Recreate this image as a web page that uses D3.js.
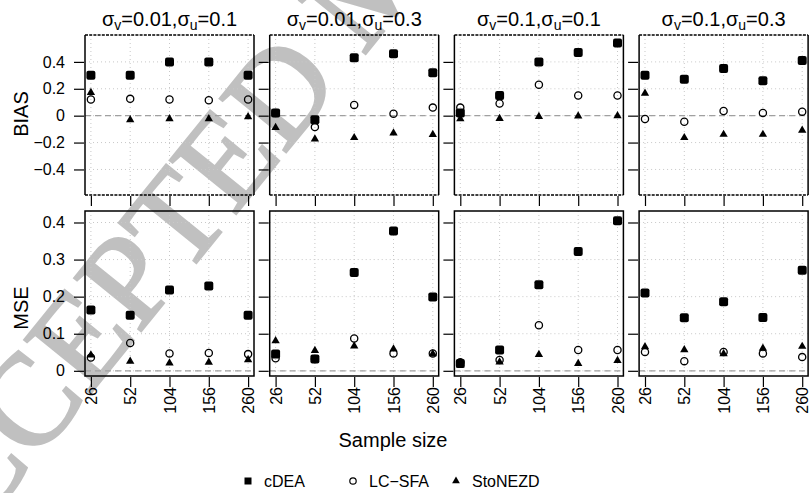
<!DOCTYPE html>
<html>
<head>
<meta charset="utf-8">
<script src="https://cdn.jsdelivr.net/npm/d3@7"></script>
<style>
  body { margin: 0; background: #fff; }
  text { font-family: "Liberation Sans", Arial, sans-serif; fill: #000; }
</style>
</head>
<body>
<div id="chart"></div>
<script>
// sample sizes (categorical x)
var sizes = ["26", "52", "104", "156", "260"];
// panel conditions
var sigmaV = ["0.01", "0.01", "0.1", "0.1"];
var sigmaU = ["0.1", "0.3", "0.1", "0.3"];
var methods = ["cDEA", "LC\u2212SFA", "StoNEZD"];

// BIAS, one row per panel
var biasCDEA = [[0.30, 0.30, 0.40, 0.40, 0.30], [0.02, -0.03, 0.43, 0.46, 0.32],
                [0.02, 0.15, 0.40, 0.47, 0.54], [0.30, 0.27, 0.35, 0.26, 0.41]];
var biasLCSFA = [[0.12, 0.125, 0.12, 0.115, 0.12], [0.02, -0.085, 0.08, 0.015, 0.06],
                 [0.06, 0.09, 0.23, 0.15, 0.15], [-0.025, -0.045, 0.035, 0.02, 0.03]];
var biasStoNEZD = [[0.175, -0.027, -0.02, -0.02, -0.005], [-0.085, -0.17, -0.16, -0.125, -0.137],
                   [-0.02, -0.018, -0.003, 0.0, 0.003], [0.17, -0.16, -0.136, -0.136, -0.105]];

// MSE, one row per panel
var mseCDEA = [[0.164, 0.15, 0.218, 0.229, 0.15], [0.045, 0.032, 0.265, 0.377, 0.199],
               [0.02, 0.056, 0.232, 0.322, 0.405], [0.21, 0.143, 0.186, 0.144, 0.271]];
var mseLCSFA = [[0.036, 0.075, 0.047, 0.048, 0.045], [0.034, 0.032, 0.087, 0.047, 0.047],
                [0.023, 0.029, 0.123, 0.056, 0.056], [0.051, 0.026, 0.051, 0.047, 0.037]];
var mseStoNEZD = [[0.044, 0.027, 0.022, 0.024, 0.031], [0.082, 0.056, 0.068, 0.06, 0.047],
                  [0.017, 0.025, 0.045, 0.021, 0.029], [0.066, 0.058, 0.047, 0.062, 0.067]];

var biasTicks = [-0.4, -0.2, 0, 0.2, 0.4];
var mseTicks = [0, 0.1, 0.2, 0.3, 0.4];

var width = 811, height = 493;
var svg = d3.select("#chart").append("svg")
  .attr("width", width).attr("height", height);

// watermark behind everything
svg.append("text")
  .attr("transform", "translate(-80,604) rotate(-51)")
  .style("font-family", "'Liberation Serif', 'DejaVu Serif', serif")
  .style("font-size", "130px")
  .style("fill", "#c0c0c0")
  .style("stroke", "#c0c0c0")
  .style("stroke-width", 2.5)
  .text("ACCEPTED MANUSCRIPT");

var panelW = 169, gap = 15.7, left0 = 85;
var rows = [
  { name: "BIAS", top: 35, bottom: 195, domain: [-0.59, 0.6], ticks: biasTicks,
    series: [biasCDEA, biasLCSFA, biasStoNEZD], dashedTB: true, labelY: 114 },
  { name: "MSE", top: 211, bottom: 376, domain: [-0.014, 0.431], ticks: mseTicks,
    series: [mseCDEA, mseLCSFA, mseStoNEZD], dashedTB: false, labelY: 308 }
];

var tri = d3.symbol().type(d3.symbolTriangle).size(30);

function drawMark(g, k, x, y) {
  if (k === 0) {
    g.append("rect").attr("x", x - 4.5).attr("y", y - 4.5)
      .attr("width", 9).attr("height", 9).attr("rx", 2)
      .attr("fill", "#000");
  } else if (k === 1) {
    g.append("circle").attr("cx", x).attr("cy", y).attr("r", 3.6)
      .attr("fill", "none").attr("stroke", "#000").attr("stroke-width", 1.3);
  } else {
    g.append("path").attr("d", tri)
      .attr("transform", "translate(" + x + "," + (y + 0.5) + ")")
      .attr("fill", "#000");
  }
}

rows.forEach(function(row, ri) {
  var y = d3.scaleLinear().domain(row.domain).range([row.bottom, row.top]);
  for (var p = 0; p < 4; p++) {
    var x0 = left0 + p * (panelW + gap);
    var x = d3.scalePoint().domain(sizes).range([x0, x0 + panelW]).padding(0.15);
    var g = svg.append("g");

    // grid
    g.selectAll(".gx").data(sizes).enter().append("line")
      .attr("x1", function(d) { return x(d); }).attr("x2", function(d) { return x(d); })
      .attr("y1", row.top).attr("y2", row.bottom)
      .attr("stroke", "#c8c8c8").attr("stroke-dasharray", "1,3");
    g.selectAll(".gy").data(row.ticks).enter().append("line")
      .attr("x1", x0).attr("x2", x0 + panelW)
      .attr("y1", function(d) { return y(d); }).attr("y2", function(d) { return y(d); })
      .attr("stroke", "#c8c8c8").attr("stroke-dasharray", "1,3");
    // zero reference
    g.append("line").attr("x1", x0).attr("x2", x0 + panelW)
      .attr("y1", y(0)).attr("y2", y(0))
      .attr("stroke", "#a0a0a0").attr("stroke-width", 1.2).attr("stroke-dasharray", "6,4");

    // y axis (ticks on left, labels only on first column)
    var ya = d3.axisLeft(y).tickValues(row.ticks).tickSize(10).tickPadding(9)
      .tickFormat(function(d) { return p === 0 ? (d === 0 ? "0" : d3.format(".1f")(d).replace("-", "\u2212")) : ""; });
    var yg = svg.append("g").attr("transform", "translate(" + (x0 - 1) + ",0)").call(ya);
    yg.select(".domain").remove();
    yg.selectAll("line").attr("stroke", "#000").attr("stroke-width", 1.2);
    yg.selectAll("text").style("font-size", "16px").style("font-family", "'Liberation Sans', Arial, sans-serif");

    // x axis ticks below each panel
    var xa = d3.axisBottom(x).tickSize(10)
      .tickFormat(function(d) { return ri === 1 ? d : ""; });
    var xg = svg.append("g").attr("transform", "translate(0," + (row.bottom + 1) + ")").call(xa);
    xg.select(".domain").remove();
    xg.selectAll("line").attr("stroke", "#000").attr("stroke-width", 1.2);
    xg.selectAll("text")
      .style("font-size", "16px").style("font-family", "'Liberation Sans', Arial, sans-serif")
      .attr("text-anchor", "end")
      .attr("transform", "rotate(-90)")
      .attr("x", -10).attr("y", 0).attr("dy", "0.35em");

    // points
    row.series.forEach(function(s, k) {
      s[p].forEach(function(v, i) { drawMark(g, k, x(sizes[i]), y(v)); });
    });

    // border
    if (row.dashedTB) {
      g.append("line").attr("x1", x0).attr("x2", x0).attr("y1", row.top).attr("y2", row.bottom)
        .attr("stroke", "#000").attr("stroke-width", 1.5);
      g.append("line").attr("x1", x0 + panelW).attr("x2", x0 + panelW).attr("y1", row.top).attr("y2", row.bottom)
        .attr("stroke", "#000").attr("stroke-width", 1.5);
      [row.top, row.bottom].forEach(function(yy) {
        g.append("line").attr("x1", x0).attr("x2", x0 + panelW).attr("y1", yy).attr("y2", yy)
          .attr("stroke", "#000").attr("stroke-width", 1.5).attr("stroke-dasharray", "3,1.2");
      });
    } else {
      g.append("rect").attr("x", x0).attr("y", row.top)
        .attr("width", panelW).attr("height", row.bottom - row.top)
        .attr("fill", "none").attr("stroke", "#000").attr("stroke-width", 1.5);
    }

    // strip titles on top row
    if (ri === 0) {
      var t = svg.append("text").attr("x", x0 + panelW / 2).attr("y", 26)
        .attr("text-anchor", "middle").style("font-size", "20px");
      t.append("tspan").text("\u03c3");
      t.append("tspan").attr("dy", 4).style("font-size", "14px").text("v");
      t.append("tspan").attr("dy", -4).text("=" + sigmaV[p] + ",\u03c3");
      t.append("tspan").attr("dy", 4).style("font-size", "14px").text("u");
      t.append("tspan").attr("dy", -4).text("=" + sigmaU[p]);
    }
  }

  svg.append("text")
    .attr("transform", "translate(28," + row.labelY + ") rotate(-90)")
    .attr("text-anchor", "middle").style("font-size", "20px")
    .text(row.name);
});

svg.append("text").attr("x", 393).attr("y", 447)
  .attr("text-anchor", "middle").style("font-size", "20px")
  .text("Sample size");

// legend
var legX = [248, 353, 456];
methods.forEach(function(m, k) {
  var lg = svg.append("g");
  if (k === 0) {
    lg.append("rect").attr("x", legX[k] - 3.5).attr("y", 477.5).attr("width", 7).attr("height", 7).attr("fill", "#000");
  } else if (k === 1) {
    lg.append("circle").attr("cx", legX[k]).attr("cy", 481).attr("r", 3.2)
      .attr("fill", "none").attr("stroke", "#000").attr("stroke-width", 1.2);
  } else {
    lg.append("path").attr("d", d3.symbol().type(d3.symbolTriangle).size(26))
      .attr("transform", "translate(" + legX[k] + ",481)").attr("fill", "#000");
  }
  lg.append("text").attr("x", legX[k] + 16).attr("y", 487)
    .style("font-size", "16px").text(m);
});
</script>
</body>
</html>
